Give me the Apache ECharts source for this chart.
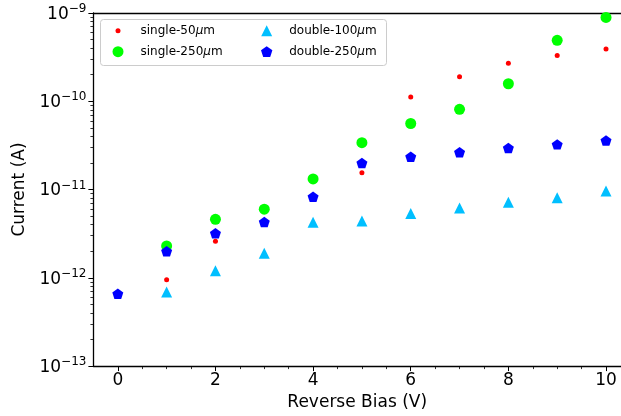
<!DOCTYPE html>
<html><head><meta charset="utf-8">
<script src="https://cdn.jsdelivr.net/npm/echarts@6/dist/echarts.min.js"></script>
<style>html,body{margin:0;padding:0;background:#fff}#c{width:621px;height:416px}</style>
</head><body><div id="c"></div>
<script>
// ---- data ----
const seriesNames = ['single-50μm', 'single-250μm', 'double-100μm', 'double-250μm'];
const single50X  = [1, 2, 5, 6, 7, 8, 9, 10];
const single50Y  = [9.5e-13, 2.6e-12, 1.55e-11, 1.12e-10, 1.9e-10, 2.7e-10, 3.3e-10, 3.9e-10];
const single250X = [1, 2, 3, 4, 5, 6, 7, 8, 9, 10];
const single250Y = [2.3e-12, 4.6e-12, 6.0e-12, 1.32e-11, 3.4e-11, 5.6e-11, 8.1e-11, 1.58e-10, 4.9e-10, 8.9e-10];
const double100X = [1, 2, 3, 4, 5, 6, 7, 8, 9, 10];
const double100Y = [6.9e-13, 1.2e-12, 1.9e-12, 4.25e-12, 4.4e-12, 5.35e-12, 6.2e-12, 7.2e-12, 8.1e-12, 9.6e-12];
const double250X = [0, 1, 2, 3, 4, 5, 6, 7, 8, 9, 10];
const double250Y = [6.6e-13, 2.0e-12, 3.2e-12, 4.3e-12, 8.3e-12, 2.0e-11, 2.35e-11, 2.65e-11, 2.95e-11, 3.25e-11, 3.6e-11];
const xTickLabels = [0, 2, 4, 6, 8, 10];
const xMinorTicks = [0.5, 1, 1.5, 2.5, 3, 3.5, 4.5, 5, 5.5, 6.5, 7, 7.5, 8.5, 9, 9.5];
const yMinorTicks = [2e-13,3e-13,4e-13,5e-13,6e-13,7e-13,8e-13,9e-13,
                     2e-12,3e-12,4e-12,5e-12,6e-12,7e-12,8e-12,9e-12,
                     2e-11,3e-11,4e-11,5e-11,6e-11,7e-11,8e-11,9e-11,
                     2e-10,3e-10,4e-10,5e-10,6e-10,7e-10,8e-10,9e-10];

const FONT = 'DejaVu Sans';
const pair = (xs, ys) => xs.map((x, i) => [x, ys[i]]);
const pentagon = 'path://M0,-1 L0.951,-0.309 L0.588,0.809 L-0.588,0.809 L-0.951,-0.309 Z';
const triangle = 'path://M0,-1 L1,1 L-1,1 Z';
// legend icons: a wide invisible box (35x11) so every marker sits centred in it
const legIcon = {
  dot:  'path://M0,0 M35,11 M20,5.5 A2.5,2.5 0 1 1 15,5.5 A2.5,2.5 0 1 1 20,5.5 Z',
  big:  'path://M0,0 M35,11 M23,5.5 A5.5,5.5 0 1 1 12,5.5 A5.5,5.5 0 1 1 23,5.5 Z',
  tri:  'path://M0,0 M35,11 M17.5,0 L23,11 L12,11 Z',
  pent: 'path://M0,0 M35,11 M17.5,0 L23.2,4.1 L21,10.9 L14,10.9 L11.8,4.1 Z'
};
const legendText = {
  fontFamily: FONT, fontSize: 12, color: '#000', lineHeight: 14,
  rich: { i: { fontFamily: FONT, fontSize: 12, fontStyle: 'italic', color: '#000' } }
};
const legendFmt = n => n.replace('μ', '{i|μ}');
const hiddenAxisBits = { axisLabel: { show: false }, splitLine: { show: false } };

const chart = echarts.init(document.getElementById('c'), null, { renderer: 'canvas' });
chart.setOption({
  backgroundColor: '#fff',
  animation: false,
  grid: { left: 93.4, top: 13, right: 0, height: 354, show: false },
  graphic: [{
    type: 'rect', left: 100, top: 19, z: 1,
    shape: { width: 286, height: 46, r: 3 },
    style: { fill: 'rgba(255,255,255,0.8)', stroke: '#cccccc', lineWidth: 1 }
  }],
  legend: [
    { data: [{ name: seriesNames[0], icon: legIcon.dot }, { name: seriesNames[1], icon: legIcon.big }],
      orient: 'vertical', left: 100.5, top: 23.7, itemWidth: 35, itemHeight: 11, itemGap: 7, padding: 0,
      textStyle: legendText, formatter: legendFmt, selectedMode: false, z: 5 },
    { data: [{ name: seriesNames[2], icon: legIcon.tri }, { name: seriesNames[3], icon: legIcon.pent }],
      orient: 'vertical', left: 249.2, top: 23.7, itemWidth: 35, itemHeight: 11, itemGap: 7, padding: 0,
      textStyle: legendText, formatter: legendFmt, selectedMode: false, z: 5 }
  ],
  xAxis: [{
    type: 'value', min: -0.5, max: 10.307, gridIndex: 0, position: 'bottom',
    name: 'Reverse Bias (V)', nameLocation: 'middle', nameGap: 26,
    nameTextStyle: { fontFamily: FONT, fontSize: 17, color: '#000' },
    axisLine: { show: true, onZero: false, lineStyle: { color: '#000', width: 1.3 } },
    axisTick: { show: true, inside: false, length: 5, customValues: xTickLabels, lineStyle: { color: '#000', width: 1 } },
    axisLabel: { customValues: xTickLabels, fontFamily: FONT, fontSize: 17, color: '#000', margin: 6 },
    splitLine: { show: false }
  }, {
    type: 'value', min: -0.5, max: 10.307, gridIndex: 0, position: 'bottom', offset: 0,
    axisLine: { show: false, onZero: false },
    axisTick: { show: true, inside: false, length: 3, customValues: xMinorTicks, lineStyle: { color: '#000', width: 0.8 } },
    ...hiddenAxisBits
  }, {
    type: 'value', min: -0.5, max: 10.307, gridIndex: 0, position: 'top', offset: 0,
    axisLine: { show: true, onZero: false, lineStyle: { color: '#000', width: 1.3 } },
    axisTick: { show: false },
    ...hiddenAxisBits
  }],
  yAxis: [{
    type: 'log', logBase: 10, min: 1e-13, max: 1e-9, gridIndex: 0, position: 'left',
    name: 'Current (A)', nameLocation: 'middle', nameGap: 63,
    nameTextStyle: { fontFamily: FONT, fontSize: 17, color: '#000' },
    axisLine: { show: true, onZero: false, lineStyle: { color: '#000', width: 1.3 } },
    axisTick: { show: true, inside: false, length: 5, lineStyle: { color: '#000', width: 1 } },
    axisLabel: {
      margin: 7, color: '#000',
      formatter: v => { const e = Math.round(Math.log10(v)); return '{b|10}{s|−' + (-e) + '}'; },
      rich: {
        b: { fontFamily: FONT, fontSize: 17, color: '#000', verticalAlign: 'bottom' },
        s: { fontFamily: FONT, fontSize: 12, color: '#000', verticalAlign: 'bottom', padding: [0, 0, 8, 0] }
      }
    },
    splitLine: { show: false }
  }, {
    type: 'value', min: -13, max: -9, gridIndex: 0, position: 'left', offset: 0,
    axisLine: { show: false, onZero: false },
    axisTick: { show: true, inside: false, length: 3, customValues: yMinorTicks.map(v => Math.log10(v)), lineStyle: { color: '#000', width: 0.8 } },
    ...hiddenAxisBits
  }],
  series: [
    { name: seriesNames[0], type: 'scatter', xAxisIndex: 0, yAxisIndex: 0, data: pair(single50X, single50Y),
      symbol: 'circle', symbolSize: 5, itemStyle: { color: '#ff0000', opacity: 1 } },
    { name: seriesNames[1], type: 'scatter', xAxisIndex: 0, yAxisIndex: 0, data: pair(single250X, single250Y),
      symbol: 'circle', symbolSize: 11, itemStyle: { color: '#00ff00', opacity: 1 } },
    { name: seriesNames[2], type: 'scatter', xAxisIndex: 0, yAxisIndex: 0, data: pair(double100X, double100Y),
      symbol: triangle, symbolSize: 11, itemStyle: { color: '#00bfff', opacity: 1 } },
    { name: seriesNames[3], type: 'scatter', xAxisIndex: 0, yAxisIndex: 0, data: pair(double250X, double250Y),
      symbol: pentagon, symbolKeepAspect: true, symbolSize: 11, itemStyle: { color: '#0000ff', opacity: 1 } }
  ]
});
</script></body></html>
